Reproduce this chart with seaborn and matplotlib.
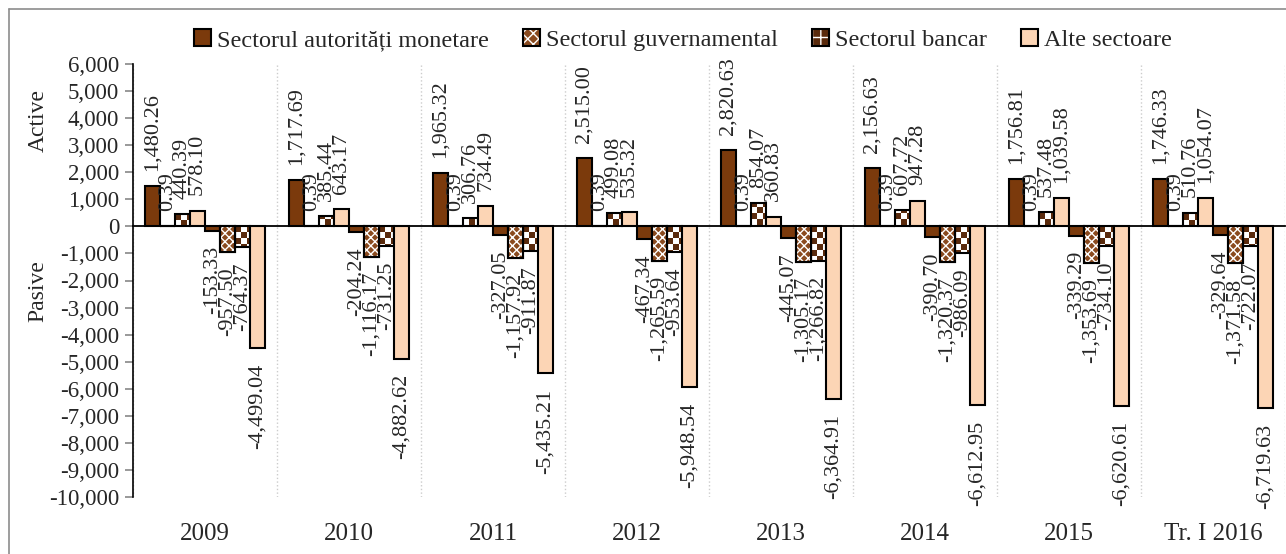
import numpy as np
import pandas as pd
import matplotlib
matplotlib.use("Agg")
import matplotlib.pyplot as plt
import seaborn as sns
from matplotlib.patches import Patch, Rectangle
from matplotlib.lines import Line2D
from matplotlib.legend_handler import HandlerTuple

# Date (mil. USD) - active si pasive pe sectoare
years = ["2009", "2010", "2011", "2012", "2013", "2014", "2015", "Tr. I 2016"]
sectors = ["Sectorul autorități monetare", "Sectorul guvernamental",
           "Sectorul bancar", "Alte sectoare"]

autoritati_active = [1480.26, 1717.69, 1965.32, 2515.00, 2820.63, 2156.63, 1756.81, 1746.33]
guvern_active = [0.39, 0.39, 0.39, 0.39, 0.39, 0.39, 0.39, 0.39]
bancar_active = [440.39, 385.44, 306.76, 499.08, 854.07, 607.72, 537.48, 510.76]
alte_active = [578.10, 643.17, 734.49, 535.32, 360.83, 947.28, 1039.58, 1054.07]

autoritati_pasive = [-153.33, -204.24, -327.05, -467.34, -445.07, -390.70, -339.29, -329.64]
guvern_pasive = [-957.50, -1116.17, -1157.92, -1265.59, -1305.17, -1320.37, -1353.69, -1371.58]
bancar_pasive = [-764.37, -731.25, -911.87, -953.64, -1266.82, -986.09, -734.10, -722.07]
alte_pasive = [-4499.04, -4882.62, -5435.21, -5948.54, -6364.91, -6612.95, -6620.61, -6719.63]

series = {
    "aut_A": autoritati_active, "guv_A": guvern_active,
    "ban_A": bancar_active, "alt_A": alte_active,
    "aut_P": autoritati_pasive, "guv_P": guvern_pasive,
    "ban_P": bancar_pasive, "alt_P": alte_pasive,
}
hue_order = list(series.keys())

rows = []
for name, vals in series.items():
    for y, v in zip(years, vals):
        rows.append({"an": y, "serie": name, "valoare": v})
df = pd.DataFrame(rows)

# culori
BROWN = "#7B3A0C"
GUV_BROWN = "#8A4A1E"
BAN_DARK = "#5A2A0C"
PEACH = "#FCD5B5"
pal = {"aut_A": BROWN, "guv_A": GUV_BROWN, "ban_A": "white", "alt_A": PEACH,
       "aut_P": BROWN, "guv_P": GUV_BROWN, "ban_P": "white", "alt_P": PEACH}

sns.set_style("white")
plt.rcParams["font.family"] = ["Liberation Serif", "DejaVu Serif"]
plt.rcParams["hatch.linewidth"] = 1.0

W, H = 1286, 554
fig = plt.figure(figsize=(W / 100, H / 100), dpi=100)
ax = fig.add_axes([133 / W, 1 - 497 / H, 1152 / W, (497 - 64) / H])

sns.barplot(data=df, x="an", y="valoare", hue="serie", hue_order=hue_order,
            order=years, palette=pal, saturation=1, width=0.833,
            errorbar=None, edgecolor="black", linewidth=1.5, ax=ax, legend=False)

ax.set_xlim(-0.5, len(years) - 0.5)
ax.set_ylim(-10000, 6000)

# sectorul guvernamental: puncte albe peste maro
for idx in (1, 5):
    for bar in ax.containers[idx]:
        ax.add_patch(Rectangle(bar.get_xy(), bar.get_width(), bar.get_height(),
                               fill=False, hatch="xxxx", edgecolor="white",
                               linewidth=0, zorder=bar.get_zorder() + 0.1))
        ax.add_patch(Rectangle(bar.get_xy(), bar.get_width(), bar.get_height(),
                               fill=False, edgecolor="black", linewidth=1.5,
                               zorder=bar.get_zorder() + 0.2))

# sectorul bancar: tabla de sah
axw = int(round(ax.get_position().width * W))
axh = int(round(ax.get_position().height * H))
yy, xx = np.indices((axh, axw))
ban_img = np.full((axh, axw, 4), 255, dtype=np.uint8)
mask = ((yy // 6 + xx // 6) % 2 == 0)
for k, c in enumerate(matplotlib.colors.to_rgb(BAN_DARK)):
    ban_img[mask, k] = int(round(c * 255))

for idx in (2, 6):
    for bar in ax.containers[idx]:
        bar.set_facecolor("none")
        im = ax.imshow(ban_img, extent=(0, 1, 0, 1), transform=ax.transAxes,
                       aspect="auto", interpolation="none", zorder=0.8)
        im.set_clip_path(bar)

ax.set_xlim(-0.5, len(years) - 0.5)
ax.set_ylim(-10000, 6000)

# etichete valori
for cont in ax.containers:
    ax.bar_label(cont, fmt="{:,.2f}", rotation=90, padding=11, fontsize=16)

# axe
ax.set_axisbelow(True)
ax.spines["top"].set_visible(False)
ax.spines["right"].set_visible(False)
ax.spines["left"].set_color("black")
ax.spines["left"].set_linewidth(1.2)
ax.spines["bottom"].set_position(("data", 0))
ax.spines["bottom"].set_color("black")
ax.spines["bottom"].set_linewidth(1.3)

ax.set_xticks([])
ax.set_xticks(np.arange(len(years) + 1) - 0.5, minor=True)
ax.tick_params(axis="x", which="minor", direction="out", length=6,
               color="#888888", width=1.2)
ax.xaxis.grid(True, which="minor", color="#cccccc", linestyle=":", linewidth=1)
ax.set_xlabel("")
ax.set_ylabel("")

ax.set_yticks(np.arange(-10000, 6001, 1000))
ax.yaxis.set_major_formatter(matplotlib.ticker.FuncFormatter(lambda v, p: f"{v:,.0f}"))
ax.tick_params(axis="y", which="major", left=True, direction="out", length=6,
               color="#888888", width=1.2, labelsize=16.5, pad=4)

sec = ax.secondary_xaxis("bottom")
sec.set_xticks(range(len(years)), labels=years)
sec.tick_params(length=0, labelsize=18, pad=19)
sec.spines["bottom"].set_visible(False)

fig.text(38 / W, 1 - 121 / H, "Active", rotation=90, ha="center", va="center", fontsize=17)
fig.text(38 / W, 1 - 291 / H, "Pasive", rotation=90, ha="center", va="center", fontsize=17)

# legenda
handles = [
    Patch(facecolor=BROWN, edgecolor="black", linewidth=1.5),
    (Patch(facecolor=GUV_BROWN, edgecolor="white", hatch="xxx", linewidth=0),
     Patch(fill=False, edgecolor="black", linewidth=1.5)),
    (Patch(facecolor=BAN_DARK, edgecolor="white", hatch="++", linewidth=0),
     Patch(fill=False, edgecolor="black", linewidth=1.5)),
    Patch(facecolor=PEACH, edgecolor="black", linewidth=1.5),
]
fig.legend(handles, sectors, loc="upper center", bbox_to_anchor=(683 / W, 1 - 7 / H),
           ncol=4, frameon=False, fontsize=17.5, handlelength=0.7, handleheight=0.7,
           handletextpad=0.25, columnspacing=1.4,
           handler_map={tuple: HandlerTuple(ndivide=1)})

# chenar
fig.add_artist(Line2D([9 / W, 9 / W], [0, 1 - 9 / H], transform=fig.transFigure,
                      color="#8c8c8c", linewidth=1.2))
fig.add_artist(Line2D([9 / W, 1], [1 - 9 / H, 1 - 9 / H], transform=fig.transFigure,
                      color="#8c8c8c", linewidth=1.2))

fig.savefig("out.png", dpi=100)
